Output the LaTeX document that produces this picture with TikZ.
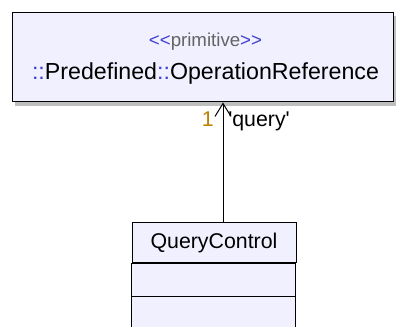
\documentclass[tikz,border=0pt]{standalone}
\usepackage{fontspec}
\setmainfont{Liberation Sans}[Ligatures=TeXOff]
\usetikzlibrary{arrows.meta}

\definecolor{umlfill}{RGB}{240,240,255}
\definecolor{umlshadow}{RGB}{190,190,190}
\definecolor{stereoblue}{RGB}{64,64,208}
\definecolor{stereogray}{RGB}{100,100,100}
\definecolor{multorange}{RGB}{192,128,0}

\tikzset{
  classbox/.style={draw=black, fill=umlfill, line width=0.75pt, inner sep=0pt},
  classname/.style={font=\fontsize{16pt}{19pt}\selectfont, inner sep=0pt},
  stereo/.style={font=\fontsize{14pt}{17pt}\selectfont, text=stereogray, inner sep=0pt},
  mult/.style={font=\fontsize{16pt}{19pt}\selectfont, text=multorange, inner sep=0pt},
  rolename/.style={font=\fontsize{16pt}{19pt}\selectfont, inner sep=0pt},
  assoc/.style={line width=0.75pt, -{Straight Barb[length=9.75pt, width=12pt]}},
}

\begin{document}
\begin{tikzpicture}[x=0.75pt, y=-0.75pt]
  \useasboundingbox (0,0) rectangle (397,327);

  % --- 1. primitive type box ---
  \fill[umlshadow] (15,16) rectangle (396,106);
  \node[classbox, minimum width=285.75pt, minimum height=66.75pt] (opref) at (202.5,57.5) {};
  \node[stereo, anchor=base] (opstereo) at (205.5,47)
    {\textcolor{stereoblue}{<<}primitive\textcolor{stereoblue}{>>}};
  \node[classname, font=\fontsize{17.4pt}{20pt}\selectfont, anchor=base] (opname) at (205.5,80)
    {\textcolor{stereoblue}{::}Predefined\textcolor{stereoblue}{::}OperationReference};

  % --- 2. class QueryControl (compartments run off the bottom) ---
  \node[classbox, classname, minimum width=123pt, minimum height=30pt] (qc) at (214,243) {QueryControl};
  \draw[classbox] (qc.south west) rectangle ++(164,33) coordinate (qcattr);
  \draw[classbox] (qcattr -| qc.west) rectangle ++(164,60);

  % --- 3. association end ---
  \draw[assoc] ([xshift=6.75pt]qc.north) -- ([xshift=6.75pt]qc.north |- opref.south);
  \node[mult, anchor=base east] (qmult) at (214,127) {1};
  \node[rolename, anchor=base west] (qrole) at (228,127) {'query'};

\end{tikzpicture}
\end{document}
